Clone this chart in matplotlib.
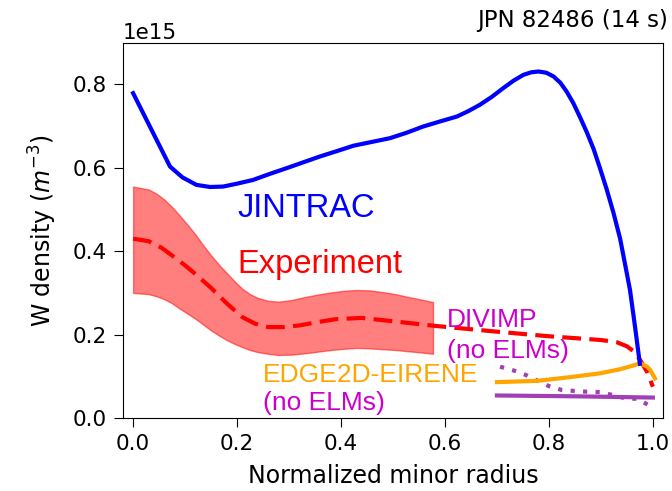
import matplotlib.pyplot as plt
import numpy as np

# JINTRAC simulated W density (units of 1e15 m^-3)
jintrac_r = [0.0, 0.071, 0.095, 0.122, 0.148, 0.173, 0.20, 0.231, 0.262, 0.295,
             0.327, 0.359, 0.392, 0.424, 0.459, 0.494, 0.526, 0.558, 0.590,
             0.623, 0.645, 0.667, 0.690, 0.712, 0.732, 0.751, 0.766, 0.780,
             0.795, 0.809, 0.822, 0.834, 0.847, 0.860, 0.873, 0.886, 0.898,
             0.911, 0.924, 0.937, 0.946, 0.956, 0.965, 0.975]
jintrac_w = [0.779, 0.603, 0.577, 0.559, 0.554, 0.555, 0.562, 0.571, 0.585, 0.599,
             0.613, 0.627, 0.640, 0.653, 0.662, 0.671, 0.684, 0.699, 0.711,
             0.723, 0.736, 0.751, 0.770, 0.791, 0.809, 0.823, 0.829, 0.831,
             0.828, 0.819, 0.804, 0.783, 0.755, 0.721, 0.685, 0.645, 0.600,
             0.549, 0.493, 0.430, 0.372, 0.307, 0.225, 0.130]

# experimental profile (dashed) and uncertainty band
exp_r = [0.0, 0.03, 0.055, 0.08, 0.10, 0.12, 0.15, 0.18, 0.21, 0.235, 0.26,
         0.29, 0.32, 0.355, 0.39, 0.44, 0.50, 0.58, 0.70, 0.80, 0.90, 0.93,
         0.95, 0.965, 0.975, 0.99, 1.0]
exp_w = [0.430, 0.424, 0.408, 0.385, 0.366, 0.345, 0.312, 0.275, 0.242, 0.226,
         0.218, 0.218, 0.222, 0.230, 0.237, 0.240, 0.232, 0.221, 0.207, 0.196,
         0.187, 0.182, 0.172, 0.158, 0.140, 0.108, 0.075]

band_r = [0.0, 0.03, 0.045, 0.06, 0.075, 0.09, 0.105, 0.12, 0.135, 0.15, 0.165,
          0.18, 0.195, 0.21, 0.225, 0.24, 0.26, 0.28, 0.305, 0.33, 0.355, 0.38,
          0.405, 0.43, 0.455, 0.48, 0.505, 0.53, 0.555, 0.577]
band_hi = [0.555, 0.548, 0.538, 0.524, 0.506, 0.485, 0.463, 0.440, 0.414, 0.390,
           0.368, 0.348, 0.328, 0.310, 0.297, 0.288, 0.281, 0.279, 0.283, 0.290,
           0.296, 0.301, 0.305, 0.307, 0.306, 0.302, 0.297, 0.290, 0.284, 0.278]
band_lo = [0.300, 0.297, 0.292, 0.285, 0.275, 0.262, 0.250, 0.238, 0.224, 0.210,
           0.198, 0.187, 0.178, 0.170, 0.163, 0.158, 0.154, 0.151, 0.152, 0.155,
           0.159, 0.163, 0.166, 0.168, 0.167, 0.165, 0.163, 0.160, 0.157, 0.154]

# EDGE2D-EIRENE (no ELMs)
edge_r = [0.70, 0.777, 0.841, 0.898, 0.937, 0.960, 0.975, 0.988, 0.995, 1.004]
edge_w = [0.086, 0.089, 0.098, 0.107, 0.117, 0.125, 0.131, 0.124, 0.115, 0.095]

# DIVIMP (no ELMs): solid and dotted profiles
divimp_r = [0.70, 0.85, 1.0]
divimp_w = [0.054, 0.052, 0.049]
divimp_dot_r = [0.706, 0.732, 0.756, 0.777, 0.799, 0.825, 0.848, 0.873, 0.898,
                0.923, 0.947, 0.969, 0.992]
divimp_dot_w = [0.123, 0.114, 0.103, 0.090, 0.077, 0.067, 0.065, 0.063, 0.062,
                0.055, 0.047, 0.046, 0.031]

scale = 1e15
purple = "#a040b4"
magenta = "#cc00cc"

fig = plt.figure(figsize=(6.72, 4.91), dpi=100)
ax = fig.add_axes([0.1826, 0.1487, 0.8044, 0.7643])

ax.fill_between(band_r, np.array(band_lo) * scale, np.array(band_hi) * scale,
                color="red", alpha=0.5)
ax.plot(exp_r, np.array(exp_w) * scale, color="red", lw=3, ls=(0, (4.5, 2)))
ax.plot(divimp_r, np.array(divimp_w) * scale, color=purple, lw=3)
ax.plot(divimp_dot_r, np.array(divimp_dot_w) * scale, color=purple, lw=3,
        ls=(0, (1, 2)))
ax.plot(edge_r, np.array(edge_w) * scale, color="orange", lw=3)
ax.plot(jintrac_r, np.array(jintrac_w) * scale, color="blue", lw=3)

ax.set_xlim(-0.02, 1.02)
ax.set_ylim(0, 0.9e15)
ax.set_xticks([0.0, 0.2, 0.4, 0.6, 0.8, 1.0])
ax.set_yticks(np.array([0.0, 0.2, 0.4, 0.6, 0.8]) * scale)
ax.ticklabel_format(axis="y", style="sci", scilimits=(15, 15))
ax.tick_params(labelsize=15.5, length=6.5, pad=5)
ax.yaxis.get_offset_text().set_fontsize(15.5)

ax.set_xlabel("Normalized minor radius", fontsize=17, labelpad=7)
ax.set_ylabel("W density ($m^{-3}$)", fontsize=17, labelpad=10)

ann = dict(family="Liberation Sans", va="baseline", ha="left")
ax.text(0.2, 0.483e15, "JINTRAC", color="blue", fontsize=23.5, **ann)
ax.text(0.2, 0.347e15, "Experiment", color="red", fontsize=23.5, **ann)
ax.text(0.603, 0.219e15, "DIVIMP", color=magenta, fontsize=19, **ann)
ax.text(0.603, 0.143e15, "(no ELMs)", color=magenta, fontsize=19, **ann)
ax.text(0.25, 0.086e15, "EDGE2D-EIRENE", color="orange", fontsize=19, **ann)
ax.text(0.25, 0.02e15, "(no ELMs)", color=magenta, fontsize=19, **ann)

fig.text(0.994, 0.945, "JPN 82486 (14 s)", ha="right", va="baseline", fontsize=16.5)

fig.savefig("out.png", dpi=100)
